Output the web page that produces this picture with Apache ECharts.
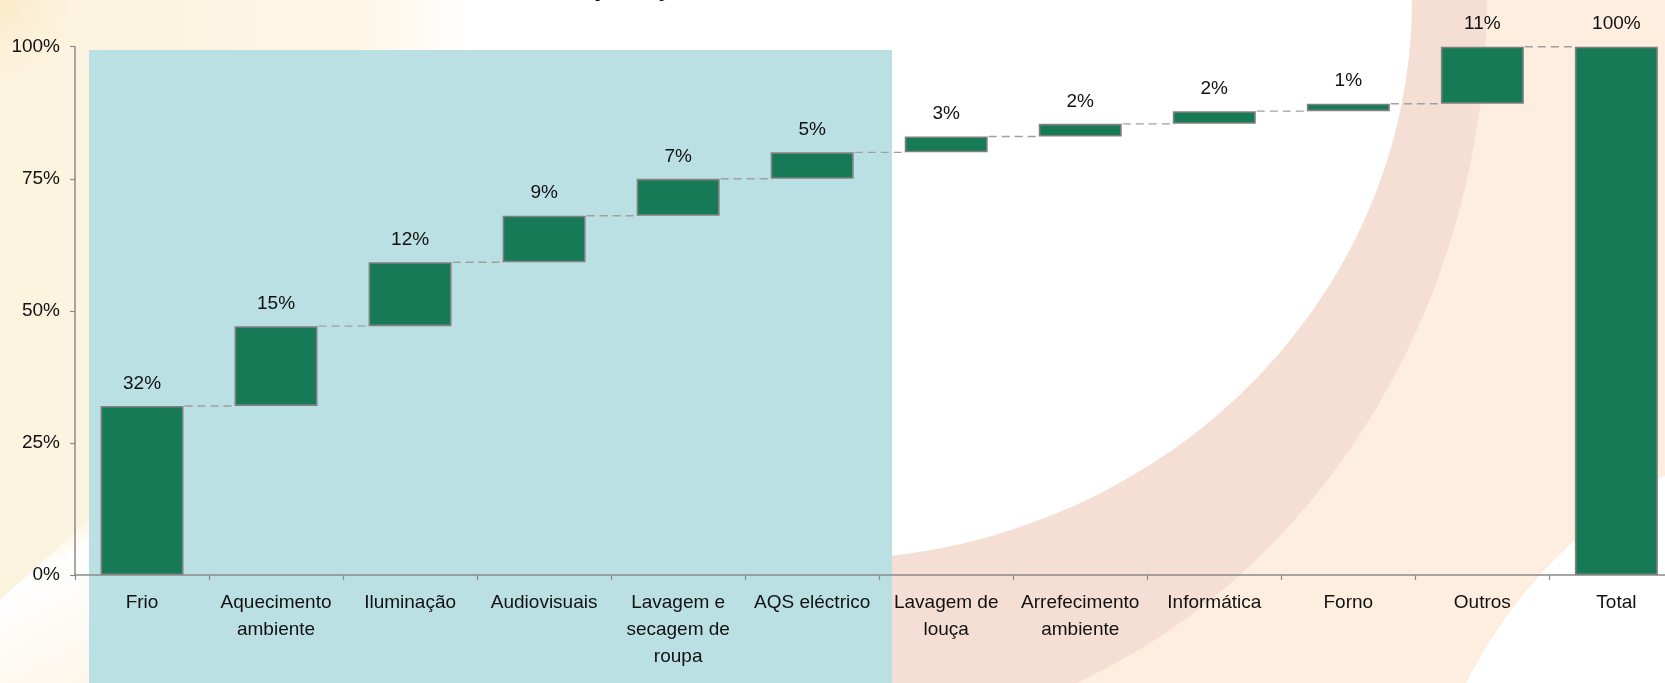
<!DOCTYPE html>
<html>
<head>
<meta charset="utf-8">
<script src="https://cdn.jsdelivr.net/npm/echarts@6/dist/echarts.min.js"></script>
<style>
  html, body { margin: 0; padding: 0; background: #ffffff; }
  #chart { width: 1665px; height: 683px; }
</style>
</head>
<body>
<div id="chart"></div>
<script>
// Categories of household electricity use (line breaks give the wrapped tick labels)
const categories = [
  'Frio', 'Aquecimento\nambiente', 'Iluminação', 'Audiovisuais',
  'Lavagem e\nsecagem de\nroupa', 'AQS eléctrico', 'Lavagem de\nlouça',
  'Arrefecimento\nambiente', 'Informática', 'Forno', 'Outros', 'Total'
];
// Share of each end use, in percent (the last category is the total)
const shares = [32.0, 15.1, 12.1, 8.8, 7.0, 5.0, 3.0, 2.4, 2.4, 1.4, 10.8];
// Value axis ticks, in percent
const yTicks = [0, 25, 50, 75, 100];

const total = shares.reduce((a, b) => a + b, 0);
const offsets = [];
const tops = [];
let running = 0;
shares.forEach(v => { offsets.push(running); running += v; tops.push(running); });
offsets.push(0);
const visible = shares.concat([total]);
// connector levels: each bar's top carried over to the next bar
const connectors = tops.map((t, i) => [i, t]);

const FONT = '"Liberation Sans", Arial, sans-serif';
const BAR_W = 83;
const AXIS_GREY = '#8a8a8a';

const chart = echarts.init(document.getElementById('chart'), null, { renderer: 'canvas' });

const option = {
  animation: false,
  backgroundColor: '#ffffff',
  graphic: [
    // peach field on the right
    { type: 'rect', z: -30, shape: { x: 860, y: 0, width: 805, height: 683 }, style: { fill: '#fdeee0' } },
    // white sweep at the bottom-right
    { type: 'circle', z: -29, shape: { cx: 1900, cy: 900, r: 485 }, style: { fill: '#ffffff' } },
    // salmon crescent
    { type: 'circle', z: -28, x: 820, y: 0, scaleX: 667, scaleY: 740, shape: { cx: 0, cy: 0, r: 1 },
      style: { fill: '#f5dfd5' } },
    // white disc inside the crescent
    { type: 'circle', z: -27, x: 820, y: 0, scaleX: 592, scaleY: 560, shape: { cx: 0, cy: 0, r: 1 },
      style: { fill: '#ffffff' } },
    // plain white behind the heading
    { type: 'rect', z: -26, shape: { x: 440, y: 0, width: 452, height: 683 }, style: { fill: '#ffffff' } },
    // cream panel on the left edge
    { type: 'rect', z: -25, shape: { x: 0, y: 0, width: 470, height: 683 },
      style: { fill: new echarts.graphic.LinearGradient(0, 0, 1, 0, [
        { offset: 0, color: '#fcf3de' }, { offset: 0.75, color: '#fdf6e5' }, { offset: 1, color: '#ffffff' }]) } },
    // soft orange touch at the top-left corner
    { type: 'circle', z: -24, shape: { cx: 0, cy: 0, r: 110 },
      style: { fill: new echarts.graphic.RadialGradient(0.5, 0.5, 0.5, [
        { offset: 0, color: 'rgba(250,228,190,0.7)' }, { offset: 1, color: 'rgba(253,246,229,0)' }]) } },
    // light sweep at the bottom-left
    { type: 'polygon', z: -24, shape: { points: [[0, 683], [0, 600], [89, 520], [89, 683]] },
      style: { fill: new echarts.graphic.LinearGradient(0, 0, 1, 1, [
        { offset: 0, color: 'rgba(252,230,178,0.9)' }, { offset: 0.35, color: '#ffffff' }, { offset: 1, color: '#fdf7ea' }]) } },
    // highlighted group of end uses
    { type: 'rect', z: -10, shape: { x: 89, y: 50, width: 803, height: 633 }, style: { fill: '#bbe0e3' } },
    // heading, mostly above the visible area
    { type: 'text', z: 5, x: 558, y: -12.6,
      style: { text: 'Repartição', font: 'bold 28px ' + FONT, fill: '#111111', verticalAlign: 'middle', align: 'left' } }
  ],
  grid: { left: 75, right: -18.4, top: 46.7, bottom: 108, containLabel: false, outerBoundsMode: 'none' },
  xAxis: {
    type: 'category',
    data: categories,
    axisLine: { lineStyle: { color: AXIS_GREY, width: 1.5 } },
    axisTick: { show: true, length: 5, lineStyle: { color: AXIS_GREY, width: 1.2 } },
    axisLabel: { interval: 0, fontSize: 19, lineHeight: 27, margin: 14, color: '#111111', fontFamily: FONT }
  },
  yAxis: {
    type: 'value',
    min: yTicks[0],
    max: yTicks[yTicks.length - 1],
    interval: yTicks[1] - yTicks[0],
    axisLine: { show: true, lineStyle: { color: AXIS_GREY, width: 1.5 } },
    axisTick: { show: true, length: 5, lineStyle: { color: AXIS_GREY, width: 1.2 } },
    splitLine: { show: false },
    axisLabel: { formatter: '{value}%', fontSize: 19, margin: 15, color: '#111111', fontFamily: FONT }
  },
  series: [
    {
      name: 'base', type: 'bar', stack: 'w', barWidth: BAR_W, silent: true,
      itemStyle: { color: 'transparent', borderColor: 'transparent' },
      data: offsets
    },
    {
      name: 'share', type: 'bar', stack: 'w', barWidth: BAR_W,
      itemStyle: { color: '#177a57', borderColor: '#808080', borderWidth: 1.6 },
      label: {
        show: true, position: 'top', distance: 13, fontSize: 19, color: '#111111', fontFamily: FONT,
        formatter: p => Math.round(p.value) + '%'
      },
      data: visible
    },
    {
      name: 'links', type: 'custom', silent: true, z: 1,
      data: connectors,
      renderItem: function (params, api) {
        const i = api.value(0);
        const level = api.value(1);
        const a = api.coord([i, level]);
        const b = api.coord([i + 1, level]);
        return {
          type: 'line',
          shape: { x1: a[0] + BAR_W / 2 + 1, y1: a[1], x2: b[0] - BAR_W / 2 - 1, y2: b[1] },
          style: { stroke: '#a0a0a0', lineWidth: 1.4, lineDash: [8, 5] }
        };
      }
    }
  ]
};

chart.setOption(option);
</script>
</body>
</html>
